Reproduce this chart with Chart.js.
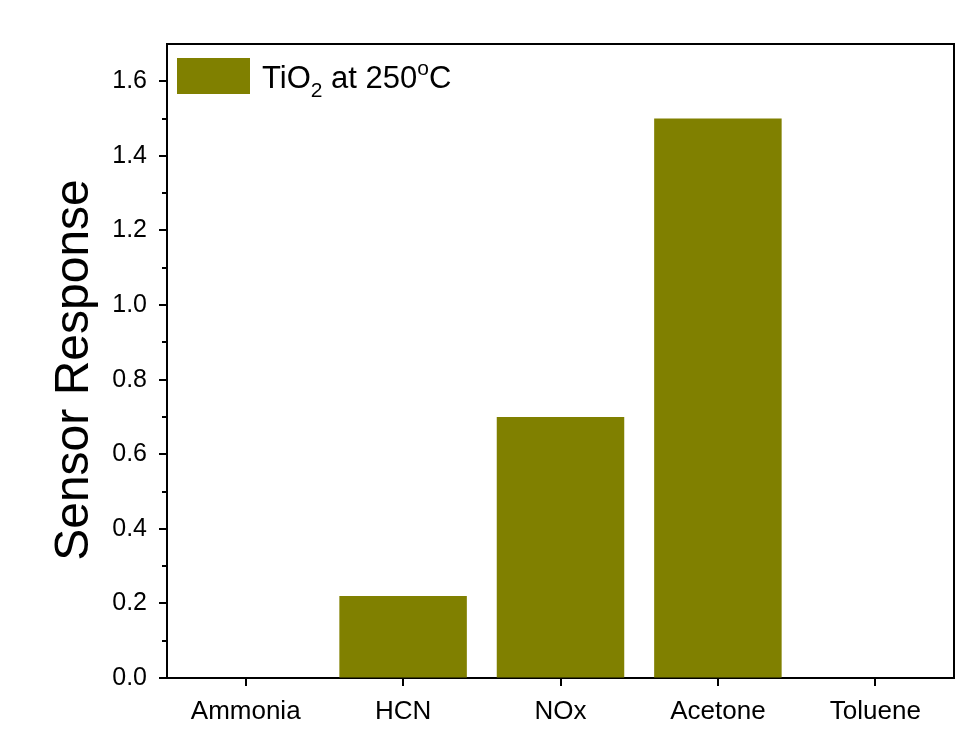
<!DOCTYPE html>
<html>
<head>
<meta charset="utf-8">
<script src="https://cdn.jsdelivr.net/npm/chart.js@4"></script>
<style>
  html, body { margin: 0; padding: 0; background: #fff; }
  #wrap { width: 968px; height: 732px; }
</style>
</head>
<body>
<div id="wrap"><canvas id="c" width="968" height="732"></canvas></div>
<script>
// Gas sensing response of TiO2 at 250 °C
const gases = ['Ammonia', 'HCN', 'NOx', 'Acetone', 'Toluene'];
const response = [0, 0.22, 0.70, 1.50, 0];
const seriesLabel = { base: 'TiO', sub: '2', mid: ' at 250', sup: 'o', tail: 'C' };
const yTitle = 'Sensor Response';

const FONT = '"Liberation Sans", Arial, Helvetica, sans-serif';
const OLIVE = '#808000';

// Outward major/minor ticks, closing frame, axis title and legend
const framePlugin = {
  id: 'frame',
  afterDraw(chart) {
    const ctx = chart.ctx;
    const a = chart.chartArea;
    const ys = chart.scales.y;
    const xs = chart.scales.x;
    ctx.save();
    ctx.strokeStyle = '#000';
    ctx.lineWidth = 2;
    ctx.lineCap = 'butt';
    // top and right frame
    ctx.beginPath();
    ctx.moveTo(a.left - 1, a.top);
    ctx.lineTo(a.right, a.top);
    ctx.lineTo(a.right, a.bottom + 1);
    ctx.stroke();
    // y ticks
    ys.ticks.forEach(t => {
      const tenth = Math.round(t.value * 10);
      if (tenth >= 17) return;
      const len = tenth % 2 === 0 ? 8 : 5;
      const py = Math.round(ys.getPixelForValue(t.value));
      ctx.beginPath();
      ctx.moveTo(a.left, py);
      ctx.lineTo(a.left - len, py);
      ctx.stroke();
    });
    // x ticks
    gases.forEach((g, i) => {
      const px = Math.round(xs.getPixelForTick(i));
      ctx.beginPath();
      ctx.moveTo(px, a.bottom);
      ctx.lineTo(px, a.bottom + 8);
      ctx.stroke();
    });
    // y axis title
    ctx.save();
    ctx.translate(75, (a.top + a.bottom) / 2 + 9);
    ctx.rotate(-Math.PI / 2);
    ctx.fillStyle = '#000';
    ctx.font = '48px ' + FONT;
    ctx.textAlign = 'center';
    ctx.textBaseline = 'middle';
    ctx.fillText(yTitle, 0, 0);
    ctx.restore();
    // legend
    const bx = a.left + 10, by = a.top + 14;
    ctx.fillStyle = chart.data.datasets[0].backgroundColor;
    ctx.fillRect(bx, by, 73, 36);
    ctx.fillStyle = '#000';
    ctx.textBaseline = 'alphabetic';
    ctx.textAlign = 'left';
    let tx = bx + 85;
    const base = by + 30;
    ctx.font = '31px ' + FONT;
    ctx.fillText(seriesLabel.base, tx, base);
    tx += ctx.measureText(seriesLabel.base).width;
    ctx.font = '21px ' + FONT;
    ctx.fillText(seriesLabel.sub, tx, base + 9);
    tx += ctx.measureText(seriesLabel.sub).width;
    ctx.font = '31px ' + FONT;
    ctx.fillText(seriesLabel.mid, tx, base);
    tx += ctx.measureText(seriesLabel.mid).width;
    ctx.font = '21px ' + FONT;
    ctx.fillText(seriesLabel.sup, tx, base - 13);
    tx += ctx.measureText(seriesLabel.sup).width;
    ctx.font = '31px ' + FONT;
    ctx.fillText(seriesLabel.tail, tx, base);
    ctx.restore();
  }
};

new Chart(document.getElementById('c'), {
  type: 'bar',
  data: {
    labels: gases,
    datasets: [{
      label: 'TiO2 at 250°C',
      data: response,
      backgroundColor: OLIVE,
      borderWidth: 0,
      barPercentage: 0.81,
      categoryPercentage: 1.0
    }]
  },
  options: {
    responsive: false,
    animation: false,
    layout: { padding: { top: 44, right: 14, left: 0, bottom: 0 } },
    plugins: {
      legend: { display: false },
      tooltip: { enabled: false }
    },
    scales: {
      x: {
        grid: { display: true, drawOnChartArea: false, drawTicks: true, tickLength: 8, tickColor: 'rgba(0,0,0,0)' },
        border: { display: true, color: '#000', width: 2 },
        ticks: { color: '#000', font: { family: FONT, size: 26 }, padding: 10, maxRotation: 0 },
        afterFit(scale) { scale.height = 54; }
      },
      y: {
        min: 0,
        max: 1.7,
        grid: { display: true, drawOnChartArea: false, drawTicks: true, tickLength: 8, tickColor: 'rgba(0,0,0,0)' },
        border: { display: true, color: '#000', width: 2 },
        ticks: {
          stepSize: 0.1,
          color: '#000',
          padding: 12,
          font: { family: FONT, size: 25 },
          callback(v) {
            const tenth = Math.round(v * 10);
            return (tenth % 2 === 0 && tenth < 17) ? (tenth / 10).toFixed(1) : '';
          }
        },
        afterFit(scale) { scale.width = 167; }
      }
    }
  },
  plugins: [framePlugin]
});
</script>
</body>
</html>
